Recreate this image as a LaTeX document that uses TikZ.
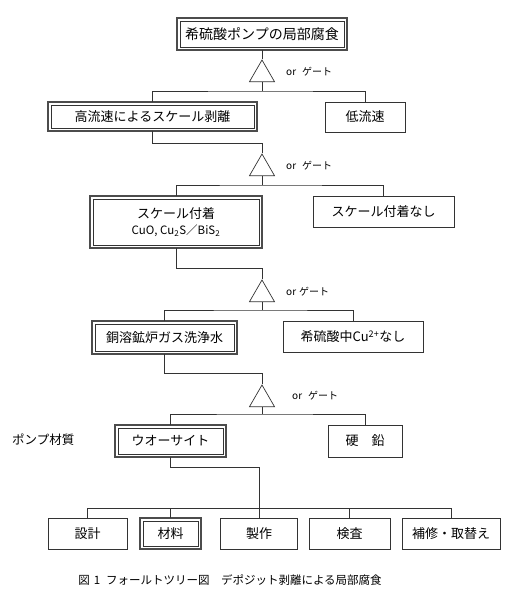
\documentclass[tikz,border=0pt]{standalone}
\usepackage{fontspec}
\setmainfont{Noto Sans CJK JP}
\usetikzlibrary{shapes.geometric}
\begin{document}
\begin{tikzpicture}[x=1pt,y=-1pt,
  box/.style={draw=black!80, line width=0.7pt, fill=white, inner sep=0pt, align=center, font=\fontsize{13}{15}\selectfont},
  dbox/.style={box, line width=0.6pt},
  outerframe/.style={draw=black!70, line width=1.5pt},
  gate/.style={draw=black!80, line width=0.7pt, regular polygon, regular polygon sides=3, minimum size=29pt, inner sep=0pt},
  glabel/.style={anchor=west, inner sep=0pt, font=\fontsize{10}{12}\selectfont},
  wire/.style={draw=black!80, line width=0.7pt},
]
\useasboundingbox (0,0) rectangle (518,600);

% boxes (double boxes: inner rectangle is the node, outer frame added below)
\node[dbox, minimum width=164pt, minimum height=26pt, font=\fontsize{14}{16}\selectfont] (top) at (262,34) {希硫酸ポンプの局部腐食};
\node[dbox, minimum width=203pt, minimum height=23pt] (hs) at (152.5,116.5) {高流速によるスケール剥離};
\node[box, minimum width=80pt, minimum height=30pt] (ls) at (365,117) {低流速};
\node[dbox, minimum width=166pt, minimum height=46pt] (sa) at (176,222) {スケール付着\\[1pt]{\fontsize{11.5}{13}\selectfont CuO, Cu\textsubscript{2}S／BiS\textsubscript{2}}};
\node[box, minimum width=141pt, minimum height=31pt] (sn) at (383.5,211.5) {スケール付着なし};
\node[dbox, minimum width=139pt, minimum height=27pt] (cw) at (164.5,337.5) {銅溶鉱炉ガス洗浄水};
\node[box, minimum width=140pt, minimum height=31pt] (cn) at (353,336.5) {希硫酸中Cu\textsuperscript{2+}なし};
\node[dbox, minimum width=105pt, minimum height=26pt] (wa) at (170.5,441) {ウオーサイト};
\node[box, minimum width=74pt, minimum height=32pt] (pb) at (365,441) {硬　鉛};
\node[box, minimum width=79pt, minimum height=31pt] (d1) at (87.5,533.5) {設計};
\node[dbox, minimum width=55pt, minimum height=25pt] (d2) at (170.5,533.5) {材料};
\node[box, minimum width=77pt, minimum height=31pt] (d3) at (259,533.5) {製作};
\node[box, minimum width=81pt, minimum height=31pt] (d4) at (349.5,533.5) {検査};
\node[box, minimum width=98pt, minimum height=31pt] (d5) at (451,533.5) {補修・取替え};

\foreach \n in {top,hs,sa,cw,wa,d2}
  \draw[outerframe] ([shift={(-2.6pt,2.6pt)}]\n.north west) rectangle ([shift={(2.6pt,-2.6pt)}]\n.south east);

% gates
\node[gate] (g1) at (262,74.5) {};
\node[gate] (g2) at (262,168.5) {};
\node[gate] (g3) at (262,294.5) {};
\node[gate] (g4) at (262,399.5) {};
\node[glabel] (o1) at (286,72) {or\hspace{0.6em}ゲート};
\node[glabel] (o2) at (286,166) {or\hspace{0.6em}ゲート};
\node[glabel] (o3) at (286,292) {or\hspace{0.3em}ゲート};
\node[glabel] (o4) at (292,396) {or\hspace{0.6em}ゲート};

% labels
\node[anchor=west, inner sep=0pt, font=\fontsize{12.5}{15}\selectfont] (lbl) at (12,440) {ポンプ材質};
\node[inner sep=0pt, font=\fontsize{11.5}{14}\selectfont] (cap) at (230,580) {図\hspace{0.35em}1\hspace{0.5em}フォールトツリー図\hspace{1em}デポジット剥離による局部腐食};

% junction coordinates
\coordinate (b1) at (262,91);
\coordinate (e2) at (262,143);
\coordinate (b2) at (262,185);
\coordinate (e3) at (262,268);
\coordinate (b3) at (262,310);
\coordinate (e4) at (262,373);
\coordinate (b4) at (262,414);
\coordinate (e5) at (259,467);
\coordinate (b5) at (259,508);

% connectors
\draw[wire] ([yshift=-2.6pt]top.south) -- (g1.north);
\draw[wire] (g1.south) -- (b1);
\draw[wire] ([yshift=2.6pt]hs.north) |- (b1) -| (ls.north);

\draw[wire] ([yshift=-2.6pt]hs.south) |- (e2) -- (g2.north);
\draw[wire] (g2.south) -- (b2);
\draw[wire] ([yshift=2.6pt]sa.north) |- (b2) -| (sn.north);

\draw[wire] ([yshift=-2.6pt]sa.south) |- (e3) -- (g3.north);
\draw[wire] (g3.south) -- (b3);
\draw[wire] ([yshift=2.6pt]cw.north) |- (b3) -| (cn.north);

\draw[wire] ([yshift=-2.6pt]cw.south) |- (e4) -- (g4.north);
\draw[wire] (g4.south) -- (b4);
\draw[wire] ([yshift=2.6pt]wa.north) |- (b4) -| (pb.north);

\draw[wire] ([yshift=-2.6pt]wa.south) |- (e5) -- (d3.north);
\draw[wire] (d1.north) |- (d5.north |- b5) -- (d5.north);
\draw[wire] ([yshift=2.6pt]d2.north) -- (d2.north |- b5);
\draw[wire] (d4.north) -- (d4.north |- b5);
\end{tikzpicture}
\end{document}
